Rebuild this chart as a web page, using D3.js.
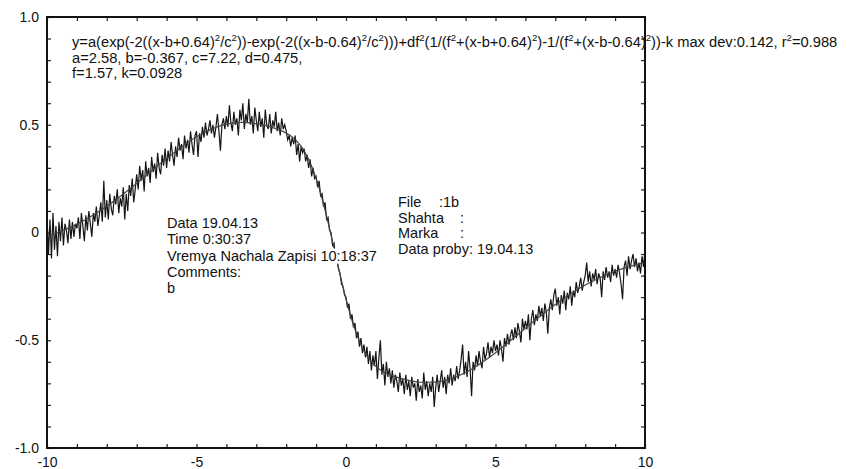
<!DOCTYPE html>
<html>
<head>
<meta charset="utf-8">
<script src="https://cdn.jsdelivr.net/npm/d3@7"></script>
<style>
  body { margin: 0; background: #fff; }
  svg { display: block; font-family: Arial, "Liberation Sans", sans-serif; }
</style>
</head>
<body>
<svg id="chart" width="847" height="469"></svg>
<script>
// measured signal, sampled every 0.05 from x = -10 to x = 10
const sampleStart = -10
const sampleStep = 0.05
const signalY = [
  0.08, -0.10, 0.06, -0.12, 0.09, -0.08, 0.03, -0.11, 0.05, -0.04, 0.07, -0.06, 0.04, 0.01, -0.05, 0.06, -0.03, 0.05, -0.02, 0.04,
  0.02, 0.07, -0.03, 0.09, 0.03, -0.04, 0.08, 0.01, 0.10, 0.04, -0.02, 0.09, 0.05, 0.12, 0.03, 0.08, 0.14, 0.05, 0.24, 0.07,
  0.15, 0.06, 0.18, 0.11, 0.08, 0.17, 0.13, 0.20, 0.09, 0.16, 0.12, 0.21, 0.06, 0.18, 0.10, 0.22, 0.17, 0.25, 0.14, 0.20,
  0.27, 0.20, 0.31, 0.24, 0.29, 0.19, 0.33, 0.26, 0.30, 0.23, 0.35, 0.28, 0.32, 0.25, 0.37, 0.30, 0.27, 0.36, 0.31, 0.39,
  0.30, 0.38, 0.33, 0.42, 0.36, 0.31, 0.40, 0.35, 0.44, 0.38, 0.41, 0.34, 0.45, 0.39, 0.43, 0.37, 0.47, 0.41, 0.36, 0.45,
  0.47, 0.35, 0.46, 0.42, 0.49, 0.44, 0.51, 0.45, 0.48, 0.52, 0.46, 0.50, 0.44, 0.49, 0.55, 0.47, 0.38, 0.50, 0.53, 0.48,
  0.54, 0.49, 0.59, 0.51, 0.47, 0.56, 0.50, 0.53, 0.45, 0.57, 0.52, 0.60, 0.48, 0.55, 0.51, 0.62, 0.50, 0.54, 0.46, 0.58,
  0.52, 0.47, 0.56, 0.49, 0.53, 0.44, 0.57, 0.50, 0.48, 0.55, 0.46, 0.52, 0.49, 0.56, 0.47, 0.51, 0.45, 0.53, 0.48, 0.50,
  0.47, 0.43, 0.45, 0.40, 0.44, 0.41, 0.45, 0.36, 0.41, 0.33, 0.40, 0.37, 0.39, 0.33, 0.36, 0.30, 0.34, 0.26, 0.30, 0.25,
  0.26, 0.21, 0.24, 0.17, 0.18, 0.12, 0.14, 0.06, 0.07, 0.01, 0.00, -0.06, -0.05, -0.12, -0.13, -0.17, -0.19, -0.24, -0.25, -0.29,
  -0.30, -0.35, -0.33, -0.40, -0.38, -0.44, -0.42, -0.49, -0.46, -0.53, -0.49, -0.56, -0.52, -0.58, -0.53, -0.61, -0.55, -0.64, -0.57, -0.62,
  -0.55, -0.68, -0.58, -0.50, -0.66, -0.61, -0.71, -0.60, -0.67, -0.63, -0.70, -0.64, -0.72, -0.66, -0.69, -0.74, -0.65, -0.71, -0.68, -0.75,
  -0.66, -0.73, -0.69, -0.76, -0.67, -0.72, -0.70, -0.78, -0.68, -0.74, -0.71, -0.77, -0.65, -0.73, -0.69, -0.76, -0.70, -0.74, -0.67, -0.81,
  -0.72, -0.66, -0.74, -0.69, -0.64, -0.72, -0.67, -0.75, -0.66, -0.70, -0.63, -0.71, -0.66, -0.69, -0.62, -0.68, -0.64, -0.59, -0.52, -0.66,
  -0.60, -0.67, -0.55, -0.63, -0.76, -0.60, -0.64, -0.57, -0.62, -0.55, -0.60, -0.63, -0.53, -0.59, -0.56, -0.51, -0.58, -0.53, -0.56, -0.50,
  -0.55, -0.52, -0.57, -0.50, -0.54, -0.60, -0.49, -0.53, -0.47, -0.52, -0.48, -0.45, -0.50, -0.44, -0.49, -0.42, -0.46, -0.51, -0.40, -0.45,
  -0.41, -0.45, -0.38, -0.50, -0.40, -0.36, -0.43, -0.38, -0.41, -0.34, -0.39, -0.35, -0.41, -0.33, -0.37, -0.47, -0.35, -0.31, -0.36, -0.29,
  -0.26, -0.34, -0.30, -0.38, -0.29, -0.33, -0.27, -0.36, -0.28, -0.31, -0.25, -0.34, -0.27, -0.30, -0.23, -0.28, -0.25, -0.21, -0.27, -0.23,
  -0.20, -0.14, -0.23, -0.18, -0.25, -0.19, -0.22, -0.17, -0.24, -0.19, -0.21, -0.30, -0.18, -0.22, -0.16, -0.21, -0.18, -0.23, -0.15, -0.20,
  -0.17, -0.21, -0.15, -0.19, -0.24, -0.31, -0.16, -0.13, -0.20, -0.11, -0.17, -0.13, -0.10, -0.16, -0.12, -0.18, -0.14, -0.19, -0.11, -0.16, -0.08
]

// fitted curve
const fitX = [-10, -9, -8, -7, -6, -5, -4, -3.5, -3, -2.5, -2, -1.75, -1.5, -1.25, -1, -0.75, -0.5, -0.25, 0,
  0.25, 0.5, 0.75, 1, 1.25, 1.5, 2, 2.5, 3, 3.5, 4, 5, 6, 7, 8, 9, 10]
const fitY = [-0.019, 0.039, 0.122, 0.228, 0.343, 0.444, 0.503, 0.511, 0.505, 0.489, 0.461, 0.438, 0.400, 0.340, 0.251, 0.131, -0.012, -0.164, -0.309,
  -0.430, -0.521, -0.583, -0.621, -0.646, -0.662, -0.683, -0.695, -0.694, -0.679, -0.650, -0.558, -0.444, -0.334, -0.244, -0.180, -0.139]

const xTickValues = [-10, -5, 0, 5, 10]
const xTickLabels = ["-10", "-5", "0", "5", "10"]
const yTickValues = [-1, -0.5, 0, 0.5, 1]
const yTickLabels = ["-1.0", "-0.5", "0", "0.5", "1.0"]

// [text, isSuperscript]
const fitText = [
  [["y=a(exp(-2((x-b+0.64)"], ["2", 1], ["/c"], ["2", 1], ["))-exp(-2((x-b-0.64)"], ["2", 1], ["/c"], ["2", 1],
   [")))+df"], ["2", 1], ["(1/(f"], ["2", 1], ["+(x-b+0.64)"], ["2", 1], [")-1/(f"], ["2", 1], ["+(x-b-0.64)"], ["2", 1],
   ["))-k max dev:0.142, r"], ["2", 1], ["=0.988"]],
  [["a=2.58, b=-0.367, c=7.22, d=0.475,"]],
  [["f=1.57, k=0.0928"]]
]
const infoLeft = [["Data 19.04.13"], ["Time 0:30:37"], ["Vremya Nachala Zapisi 10:18:37"], ["Comments:"], ["b"]]
const infoRight = [["File", ":1b"], ["Shahta", ":"], ["Marka", ":"], ["Data proby: 19.04.13"]]

var margin = { left: 47, right: 202, top: 17, bottom: 21 }
var width = 847, height = 469

var svg = d3.select('#chart')

var x = d3.scaleLinear().domain([-10, 10]).range([margin.left, width - margin.right])
var y = d3.scaleLinear().domain([-1, 1]).range([height - margin.bottom, margin.top])

// data + fit
var signal = signalY.map((v, i) => [sampleStart + i * sampleStep, v])
var line = d3.line().x(d => x(d[0])).y(d => y(d[1]))

svg.append('path')
  .datum(signal)
  .attr('d', line)
  .attr('fill', 'none')
  .attr('stroke', '#151515')
  .attr('stroke-width', 1.2)

svg.append('path')
  .datum(fitX.map((v, i) => [v, fitY[i]]))
  .attr('d', line.curve(d3.curveMonotoneX))
  .attr('fill', 'none')
  .attr('stroke', '#444')
  .attr('stroke-width', 1.2)

// axes: minor ticks every 1 / 0.1, inward, labels only on majors
var xMinor = d3.range(-10, 11)
var yMinor = d3.range(-10, 11).map(v => v / 10)

function xLabel(d) {
  var i = xTickValues.indexOf(d)
  return i < 0 ? "" : xTickLabels[i]
}
function yLabel(d) {
  var i = yTickValues.findIndex(v => Math.abs(v - d) < 1e-9)
  return i < 0 ? "" : yTickLabels[i]
}

svg.append('g')
  .attr('transform', 'translate(0,' + y(-1) + ')')
  .call(d3.axisBottom(x).tickValues(xMinor).tickSize(-4).tickPadding(9).tickFormat(xLabel))
svg.append('g')
  .attr('transform', 'translate(0,' + y(1) + ')')
  .call(d3.axisTop(x).tickValues(xMinor).tickSize(-4).tickFormat(''))
svg.append('g')
  .attr('transform', 'translate(' + x(-10) + ',0)')
  .call(d3.axisLeft(y).tickValues(yMinor).tickSize(-4).tickPadding(8).tickFormat(yLabel))
svg.append('g')
  .attr('transform', 'translate(' + x(10) + ',0)')
  .call(d3.axisRight(y).tickValues(yMinor).tickSize(-4).tickFormat(''))

svg.selectAll('.domain').remove()
svg.selectAll('.tick line').attr('stroke', '#222').attr('stroke-width', 1.2)
svg.selectAll('.tick text')
  .attr('font-family', 'Arial, "Liberation Sans", sans-serif')
  .attr('font-size', 14)
  .attr('fill', '#111')

svg.append('rect')
  .attr('x', x(-10)).attr('y', y(1))
  .attr('width', x(10) - x(-10)).attr('height', y(-1) - y(1))
  .attr('fill', 'none')
  .attr('stroke', '#111')
  .attr('stroke-width', 2)

// fit formula
var ft = svg.append('g').attr('font-size', 14.7).attr('fill', '#111')
fitText.forEach((parts, li) => {
  var t = ft.append('text').attr('x', 72).attr('y', 47 + li * 15.5)
  var raised = false
  parts.forEach(p => {
    var s = t.append('tspan').text(p[0])
    if (p[1]) { s.attr('font-size', 9.5).attr('dy', -6); raised = true }
    else if (raised) { s.attr('dy', 6); raised = false }
  })
})

// info blocks, each line on its own white backing
function infoBlock(lines, x0, y0, step) {
  var g = svg.append('g').attr('font-size', 14.5).attr('fill', '#111')
  lines.forEach((l, i) => {
    var row = g.append('g')
    var bg = row.append('rect').attr('fill', '#fff')
    var t = row.append('text').attr('x', x0).attr('y', y0 + i * step)
    t.append('tspan').text(l[0])
    if (l.length > 1) t.append('tspan').attr('x', x0 + (l[0] === 'File' ? 41 : 62)).text(l[1])
    var bb = t.node().getBBox()
    bg.attr('x', bb.x - 1).attr('y', bb.y + 1).attr('width', bb.width + 2).attr('height', bb.height - 1)
  })
}
infoBlock(infoLeft, 167, 228, 16.3)
infoBlock(infoRight, 398, 207, 15.6)
</script>
</body>
</html>
